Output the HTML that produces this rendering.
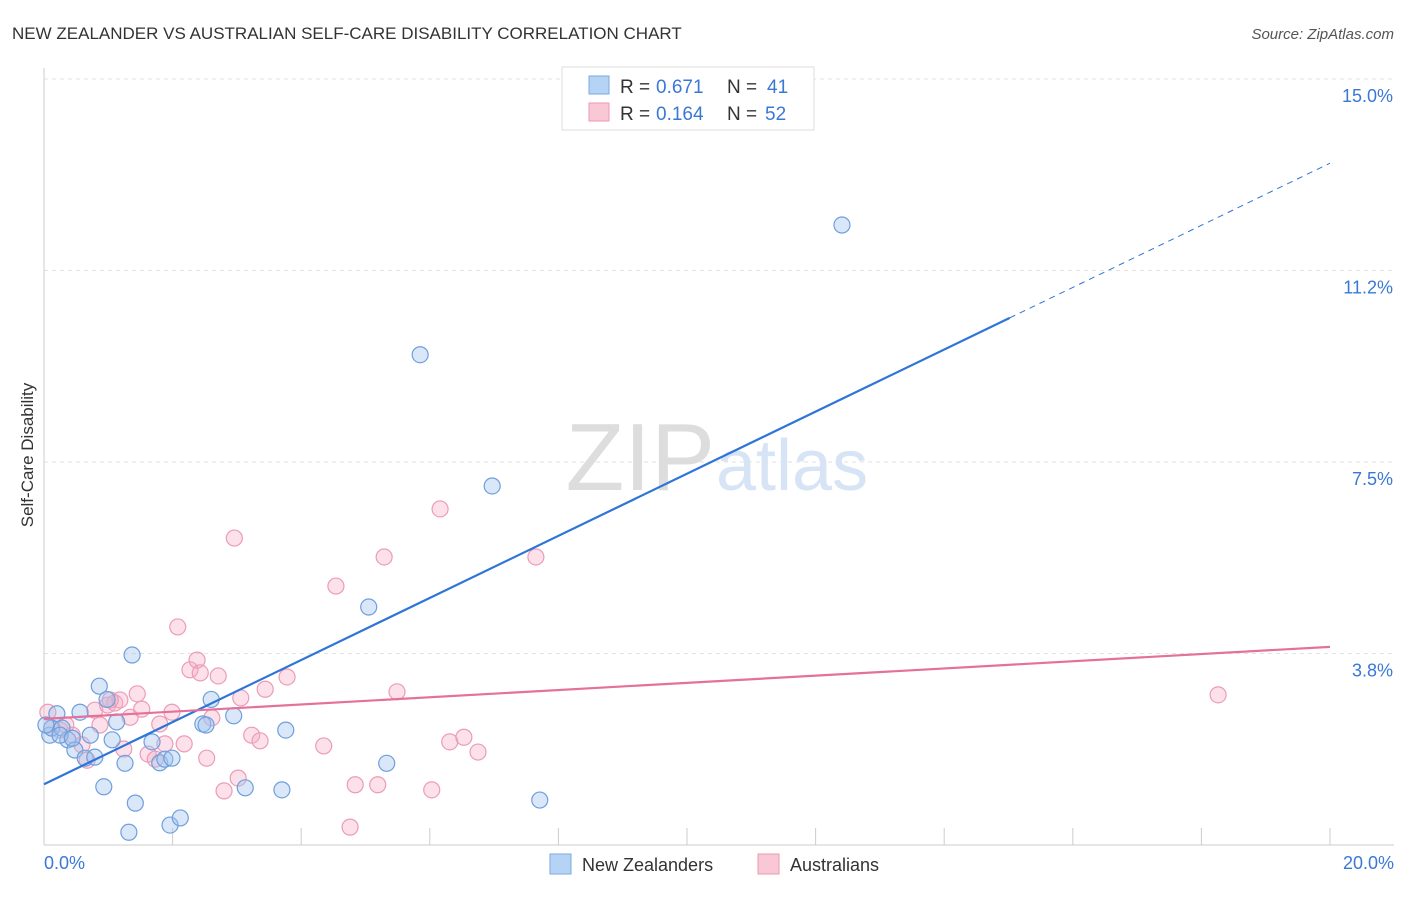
<!DOCTYPE html>
<html><head><meta charset="utf-8"><style>
body{margin:0;background:#fff;font-family:"Liberation Sans",sans-serif}
svg text{font-family:"Liberation Sans",sans-serif}
</style></head><body>
<svg width="1406" height="892">
<text x="12" y="39" font-size="17" fill="#333">NEW ZEALANDER VS AUSTRALIAN SELF-CARE DISABILITY CORRELATION CHART</text>
<text x="1394" y="39" font-size="15" fill="#555" text-anchor="end" font-style="italic">Source: ZipAtlas.com</text>
<g id="grid"></g>
<text x="715" y="490" font-size="96" fill="#ddd" text-anchor="end" font-family="Liberation Serif">ZIP</text>
<text x="716" y="490" font-size="72" fill="#d6e4f5">atlas</text>
<text x="33" y="455" font-size="17" fill="#333" transform="rotate(-90 33 455)" text-anchor="middle">Self-Care Disability</text>
<g id="pts"></g>
<g id="lines"></g>
<g>
<rect x="562" y="67" width="252" height="63" fill="#fff" stroke="#ddd"/>
<rect x="589" y="76" width="20" height="18" fill="#b5d3f5" stroke="#7aa9e0"/>
<rect x="589" y="103" width="20" height="18" fill="#f9c7d6" stroke="#ec9ab4"/>
<text x="620" y="93" font-size="19" fill="#333">R =</text>
<text x="656" y="93" font-size="19" fill="#3a78d6">0.671</text>
<text x="727" y="93" font-size="19" fill="#333">N =</text>
<text x="767" y="93" font-size="19" fill="#3a78d6">41</text>
<text x="620" y="120" font-size="19" fill="#333">R =</text>
<text x="656" y="120" font-size="19" fill="#3a78d6">0.164</text>
<text x="727" y="120" font-size="19" fill="#333">N =</text>
<text x="765" y="120" font-size="19" fill="#3a78d6">52</text>
</g>
<g>
<rect x="550" y="854" width="21" height="20" fill="#b5d3f5" stroke="#7aa9e0"/>
<text x="582" y="871" font-size="18" fill="#333">New Zealanders</text>
<rect x="758" y="854" width="21" height="20" fill="#f9c7d6" stroke="#ec9ab4"/>
<text x="790" y="871" font-size="18" fill="#333">Australians</text>
</g>
</svg>
<script>
const xTicks=[0,2,4,6,8,10,12,14,16,18,20];
const yTicks=[3.75,7.5,11.25,15];
const yTickLabels=["3.8%","7.5%","11.2%","15.0%"];
const nzX=[0.09,0.12,0.2,0.28,0.37,0.48,0.56,0.64,0.72,0.79,0.86,0.93,0.98,1.06,1.13,1.26,1.32,1.37,1.42,1.68,1.80,1.88,1.96,1.99,2.12,2.47,2.52,2.6,2.95,3.13,3.7,3.76,5.05,5.33,5.85,6.97,7.71,12.41,0.25,0.03,0.44];
const nzY=[2.15,2.29,2.57,2.29,2.06,1.86,2.6,1.7,2.15,1.72,3.11,1.14,2.85,2.06,2.41,1.6,0.25,3.72,0.82,2.02,1.61,1.68,0.39,1.7,0.53,2.37,2.35,2.85,2.53,1.12,1.08,2.25,4.66,1.6,9.6,7.03,0.88,12.14,2.15,2.35,2.09];
const auX=[0.06,0.12,0.25,0.34,0.44,0.59,0.67,0.79,0.87,0.99,1.1,1.18,1.24,1.34,1.45,1.52,1.62,1.73,1.80,1.88,1.99,2.08,2.18,2.27,2.38,2.43,2.53,2.61,2.71,2.8,2.96,3.02,3.06,3.23,3.36,3.44,3.78,4.35,4.54,4.76,4.84,5.19,5.29,5.49,6.03,6.16,6.31,6.53,6.75,7.65,18.26,1.03];
const auY=[2.6,2.29,2.25,2.35,2.15,1.96,1.66,2.64,2.35,2.74,2.78,2.84,1.88,2.5,2.96,2.66,1.78,1.68,2.37,1.98,2.6,4.27,1.98,3.43,3.62,3.37,1.7,2.49,3.31,1.06,6.01,1.31,2.88,2.15,2.04,3.05,3.29,1.94,5.07,0.35,1.18,1.18,5.64,3.0,1.08,6.58,2.02,2.11,1.82,5.64,2.94,2.84];
const nzFit=[1.19,0.608];
const auFit=[2.47,0.0705];
const X=v=>44+v*64.3, Y=v=>845-v*51.07;
const NS="http://www.w3.org/2000/svg";
function mk(t,a,p){const e=document.createElementNS(NS,t);for(const k in a)e.setAttribute(k,a[k]);p.appendChild(e);return e;}
const grid=document.getElementById('grid');
yTicks.forEach((v,i)=>{
 const l=mk('line',{x1:44,x2:1394,y1:Y(v),y2:Y(v),stroke:'#e2e2e2','stroke-dasharray':'4 4'},grid);
 
 
 const t=mk('text',{x:1393,y:Y(v)+23,'font-size':18,fill:'#3a78d6','text-anchor':'end'},grid);t.textContent=yTickLabels[i];
 
 
});
mk('line',{x1:44,x2:44,y1:68,y2:845,stroke:'#ccc'},grid);
mk('line',{x1:44,x2:1394,y1:845,y2:845,stroke:'#ccc'},grid);
xTicks.forEach(v=>{if(v>0){const l=mk('line',{x1:X(v),x2:X(v),y1:828,y2:845,stroke:'#ccc'},grid);
 
 }});
const t0=mk('text',{x:44,y:869,'font-size':18,fill:'#3a78d6'},grid);t0.textContent='0.0%';


const t1=mk('text',{x:1394,y:869,'font-size':18,fill:'#3a78d6','text-anchor':'end'},grid);t1.textContent='20.0%';


const pts=document.getElementById('pts');
auX.forEach((x,i)=>{const c=mk('circle',{cx:X(x),cy:Y(auY[i]),r:8,fill:'rgba(245,170,195,0.35)',stroke:'#eb9cb6','stroke-width':1.2},pts);
 
 });
nzX.forEach((x,i)=>{const c=mk('circle',{cx:X(x),cy:Y(nzY[i]),r:8,fill:'rgba(160,195,240,0.4)',stroke:'#6e9fdc','stroke-width':1.2},pts);
 
 });
const lg=document.getElementById('lines');
const f=(fit,x)=>fit[0]+fit[1]*x;
let l=mk('line',{x1:X(0),y1:Y(f(nzFit,0)),x2:X(15.02),y2:Y(f(nzFit,15.02)),stroke:'#2f74d8','stroke-width':2.2},lg);


l=mk('line',{x1:X(15.02),y1:Y(f(nzFit,15.02)),x2:X(20),y2:Y(f(nzFit,20)),stroke:'#2f74d8','stroke-width':1,'stroke-dasharray':'6 5'},lg);


l=mk('line',{x1:X(0),y1:Y(f(auFit,0)),x2:X(20),y2:Y(f(auFit,20)),stroke:'#e5709a','stroke-width':2.2},lg);


</script>
</body></html>
